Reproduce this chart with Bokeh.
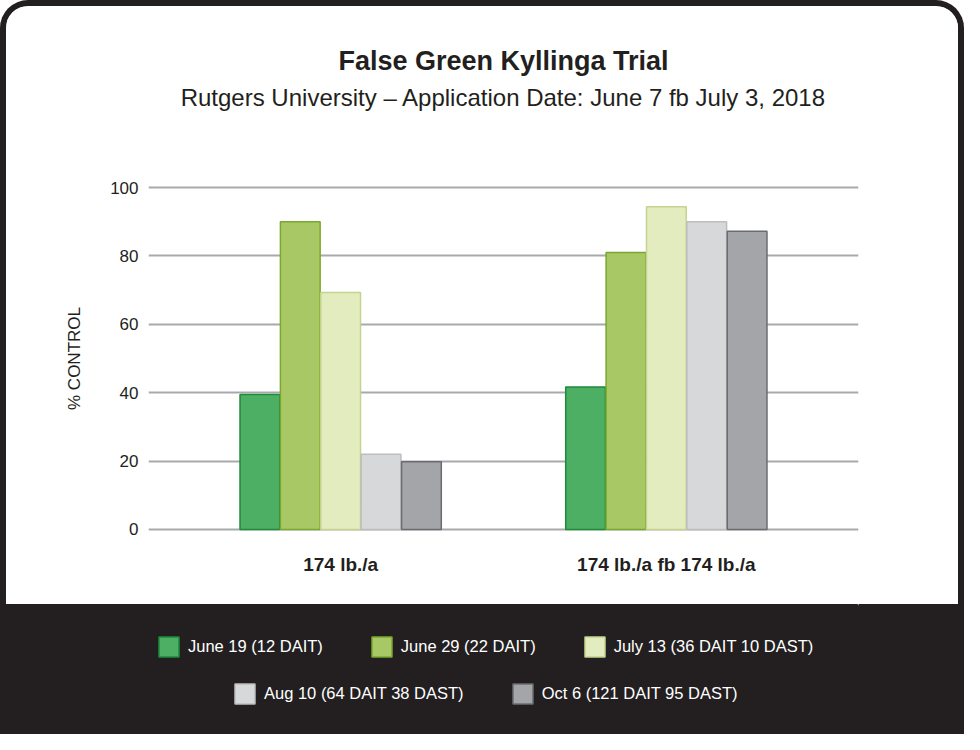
from bokeh.plotting import figure
from bokeh.models import FactorRange, Range1d, Title, Legend, LegendItem, FixedTicker, ColumnDataSource
from bokeh.transform import dodge
from bokeh.layouts import column
from bokeh.embed import file_html
from bokeh.resources import INLINE

# ---- data ----
categories = ["174 lb./a", "174 lb./a fb 174 lb./a"]
series = ["June 19 (12 DAIT)", "June 29 (22 DAIT)", "July 13 (36 DAIT 10 DAST)",
          "Aug 10 (64 DAIT 38 DAST)", "Oct 6 (121 DAIT 95 DAST)"]
june19 = [39.5, 41.7]
june29 = [90.0, 81.0]
july13 = [69.3, 94.4]
aug10 = [22.0, 90.0]
oct6 = [19.8, 87.2]
yticks = [0, 20, 40, 60, 80, 100]

title_text = "False Green Kyllinga Trial"
subtitle_text = "Rutgers University \u2013 Application Date: June 7 fb July 3, 2018"

# ---- styles ----
fills = ["#4caf63", "#a8c866", "#e3ecbe", "#d7d8da", "#a4a5a8"]
lines = ["#1e8a3a", "#7aa82e", "#c4d490", "#bcbdbf", "#6b6c70"]
DARK = "#231f20"
FONT = "Liberation Sans"

src = ColumnDataSource(dict(cat=categories, june19=june19, june29=june29,
                            july13=july13, aug10=aug10, oct6=oct6))
keys = ["june19", "june29", "july13", "aug10", "oct6"]
offsets = [-0.248, -0.124, 0.0, 0.124, 0.248]

pA = figure(x_range=FactorRange(*categories, range_padding=0.09, range_padding_units="absolute"),
            y_range=Range1d(-0.6, 100.6), width=952, height=598,
            output_backend="svg", toolbar_location=None, title_location=None,
            min_border_left=142, min_border_right=100, min_border_top=179, min_border_bottom=73,
            background_fill_color="white", border_fill_color="white")
pA.outline_line_color = None

for k, off, fc, lc in zip(keys, offsets, fills, lines):
    pA.vbar(x=dodge("cat", off, range=pA.x_range), top=k, width=0.122, source=src,
            fill_color=fc, line_color=lc, line_width=1.5)

# spacer (blank) between plot and subtitle, then subtitle, then main title
pA.add_layout(Title(text=" ", text_font=FONT, text_font_size="10px", standoff=60), "above")
pA.add_layout(Title(text=subtitle_text, align="center", text_font=FONT,
                    text_font_size="24px", text_font_style="normal", text_color=DARK,
                    standoff=4), "above")
pA.add_layout(Title(text=title_text, align="center", text_font=FONT,
                    text_font_size="27px", text_font_style="bold", text_color=DARK,
                    standoff=7), "above")

pA.xgrid.grid_line_color = None
pA.ygrid.grid_line_color = "#a7a9ac"
pA.ygrid.grid_line_width = 2
pA.yaxis.ticker = FixedTicker(ticks=yticks)
for ax in (pA.xaxis[0], pA.yaxis[0]):
    ax.axis_line_color = None
    ax.major_tick_line_color = None
    ax.minor_tick_line_color = None
    ax.major_label_text_font = FONT
    ax.major_label_text_color = DARK
pA.yaxis.major_label_text_font_size = "17px"
pA.yaxis.major_label_standoff = 4
pA.yaxis.axis_label = "% CONTROL"
pA.yaxis.axis_label_text_font = FONT
pA.yaxis.axis_label_text_font_size = "17px"
pA.yaxis.axis_label_text_font_style = "normal"
pA.yaxis.axis_label_text_color = DARK
pA.yaxis.axis_label_standoff = 23
pA.xaxis.major_label_text_font_size = "19px"
pA.xaxis.major_label_text_font_style = "bold"
pA.xaxis.major_label_standoff = 16
pA.styles = {"border-radius": "22px 22px 0 0", "overflow": "hidden", "background-color": "white"}

# ---- legend panel ----
pB = figure(width=952, height=130, x_range=Range1d(0, 1), y_range=Range1d(0, 1),
            output_backend="svg", toolbar_location=None, title_location=None,
            x_axis_location=None, y_axis_location=None, min_border=0,
            background_fill_alpha=0, border_fill_alpha=0)
pB.outline_line_color = None
pB.grid.visible = False
pB.styles = {"background-color": DARK}
# legend-only renderers, placed entirely outside the visible ranges
dummies = [pB.vbar(x=[10], bottom=[9], top=[10], width=0.1, fill_color=fc, line_color=lc,
                   line_width=1.5)
           for fc, lc in zip(fills, lines)]

def make_legend(idx, loc):
    return Legend(items=[LegendItem(label=series[i], renderers=[dummies[i]]) for i in idx],
                  orientation="horizontal", location=loc, margin=0, padding=0,
                  spacing=46, label_standoff=7, glyph_width=25, glyph_height=25,
                  label_height=25, label_text_color="white", label_text_font=FONT,
                  label_text_font_size="16.5px", border_line_color=None,
                  background_fill_alpha=0)

pB.add_layout(make_legend([0, 1, 2], (8, 75)))
pB.add_layout(make_legend([3, 4], (84, 28)))

layout = column(pA, pB, styles={"background-color": DARK, "border-radius": "28px 28px 0 0",
                                "padding": "6px 6px 0 6px"})

open("out.html", "w").write(file_html(layout, INLINE))
